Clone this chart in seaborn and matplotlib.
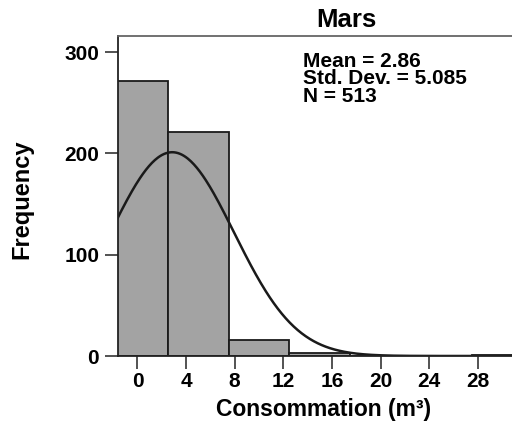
import numpy as np
import pandas as pd
import matplotlib
matplotlib.use("Agg")
import matplotlib.pyplot as plt
import seaborn as sns

# Data
bin_centers = [0, 5, 10, 15, 20, 25, 30]
counts = [272, 221, 16, 3, 0, 0, 1]
bin_width = 5
mean_val = 2.86
std_val = 5.085
n_total = 513
x_ticks = [0, 4, 8, 12, 16, 20, 24, 28]
y_ticks = [0, 100, 200, 300]

sns.set_style("white")
plt.rcParams['font.family'] = ['Liberation Sans', 'DejaVu Sans']
plt.rcParams['font.weight'] = 'bold'
plt.rcParams['text.color'] = 'black'
plt.rcParams['axes.labelcolor'] = 'black'

W, H = 512, 428
fig = plt.figure(figsize=(W / 100, H / 100), dpi=100)
ax_l, ax_r, ax_t, ax_b = 118, 575, 36, 356
ax = fig.add_axes([ax_l / W, 1 - ax_b / H, (ax_r - ax_l) / W, (ax_b - ax_t) / H])

edges = [c - bin_width / 2 for c in bin_centers] + [bin_centers[-1] + bin_width / 2]
df = pd.DataFrame({"x": bin_centers, "w": counts})
sns.histplot(data=df, x="x", weights="w", bins=edges, ax=ax,
             color="#a3a3a3", edgecolor="#1a1a1a", linewidth=1.3, alpha=1.0)

xs = np.linspace(-3, 38, 500)
pdf = n_total * bin_width * np.exp(-0.5 * ((xs - mean_val) / std_val) ** 2) / (std_val * np.sqrt(2 * np.pi))
sns.lineplot(x=xs, y=pdf, ax=ax, color="#1a1a1a", linewidth=1.8)

ax.set_xlim(-1.6, 36.0)
ax.set_ylim(0, 316)
ax.set_xticks(x_ticks)
ax.set_yticks(y_ticks)
ax.tick_params(axis='both', bottom=True, left=True, direction='out', length=9.5, width=1.3,
               labelsize=15, color='#444444', labelcolor='black')
ax.tick_params(axis='y', pad=4)
ax.tick_params(axis='x', pad=2)
for lab in ax.get_xticklabels() + ax.get_yticklabels():
    lab.set_fontweight('bold')

for s in ['left', 'bottom']:
    ax.spines[s].set_color('#222222')
    ax.spines[s].set_linewidth(1.3)
ax.spines['top'].set_color('#666666')
ax.spines['top'].set_linewidth(1.3)
ax.spines['right'].set_visible(False)

axw = ax_r - ax_l
axh = ax_b - ax_t
ax.set_xlabel("Consommation (m³)", fontsize=16.5, fontweight='bold')
ax.xaxis.set_label_coords((324 - ax_l) / axw, (ax_b - 398) / axh)
ax.set_ylabel("Frequency", fontsize=17, fontweight='bold')
ax.yaxis.set_label_coords((33 - ax_l) / axw, 0.49)

fig.text(346 / W, 1 - 20 / H, "Mars", fontsize=18.5, fontweight='bold', ha='center', va='center')

ax.text((303 - ax_l) / axw, (ax_b - 52) / axh, f"Mean = {mean_val}\nStd. Dev. = {std_val}\nN = {n_total}",
        transform=ax.transAxes, fontsize=15, fontweight='bold', va='top', ha='left', linespacing=0.9)

fig.savefig("out.png", dpi=100)
